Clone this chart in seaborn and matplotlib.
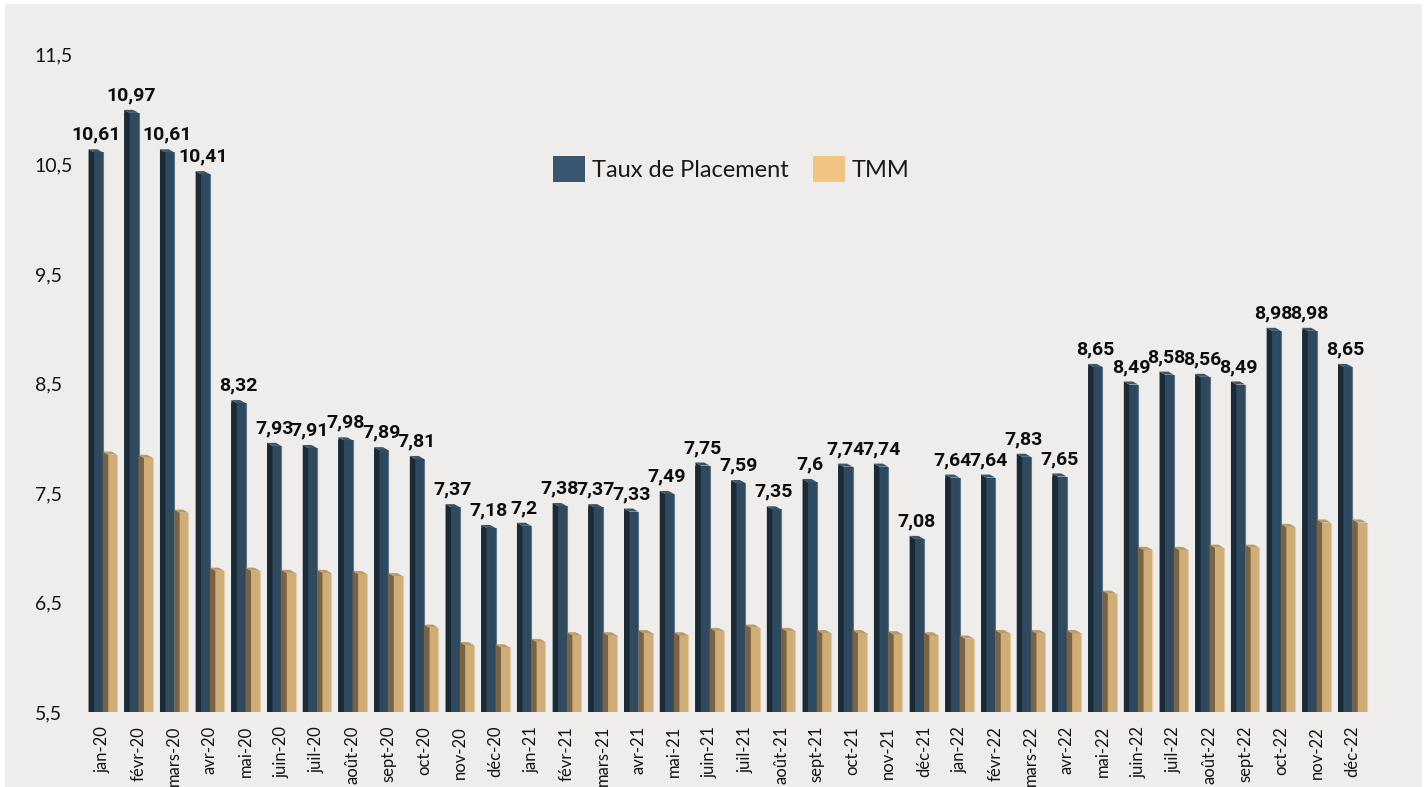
import pandas as pd
import matplotlib.pyplot as plt
import seaborn as sns
from matplotlib.patches import Polygon, Rectangle, Patch

# Data
months = ["jan-20", "févr-20", "mars-20", "avr-20", "mai-20", "juin-20", "juil-20", "août-20",
          "sept-20", "oct-20", "nov-20", "déc-20", "jan-21", "févr-21", "mars-21", "avr-21",
          "mai-21", "juin-21", "juil-21", "août-21", "sept-21", "oct-21", "nov-21", "déc-21",
          "jan-22", "févr-22", "mars-22", "avr-22", "mai-22", "juin-22", "juil-22", "août-22",
          "sept-22", "oct-22", "nov-22", "déc-22"]
taux_placement = [10.61, 10.97, 10.61, 10.41, 8.32, 7.93, 7.91, 7.98, 7.89, 7.81, 7.37, 7.18,
                  7.2, 7.38, 7.37, 7.33, 7.49, 7.75, 7.59, 7.35, 7.6, 7.74, 7.74, 7.08,
                  7.64, 7.64, 7.83, 7.65, 8.65, 8.49, 8.58, 8.56, 8.49, 8.98, 8.98, 8.65]
tmm = [7.85, 7.82, 7.32, 6.79, 6.79, 6.77, 6.77, 6.76, 6.74, 6.27, 6.11, 6.09,
       6.14, 6.20, 6.20, 6.22, 6.20, 6.24, 6.27, 6.24, 6.22, 6.22, 6.21, 6.20,
       6.17, 6.22, 6.22, 6.22, 6.58, 6.98, 6.98, 7.00, 7.00, 7.19, 7.23, 7.23]
series = ["Taux de Placement", "TMM"]
y_ticks = [5.5, 6.5, 7.5, 8.5, 9.5, 10.5, 11.5]

df = pd.DataFrame({
    "Mois": months * 2,
    "Série": [series[0]] * len(months) + [series[1]] * len(months),
    "Valeur": taux_placement + tmm,
})

BG = "#EEEDEB"
front = ["#2F4A5F", "#D0AD76"]
side = ["#1B2A35", "#76644A"]
cap = ["#3A566D", "#B99A68"]
edge = ["#587690", "#E6CB9C"]
legend_cols = ["#3A5570", "#F2C484"]

sns.set_theme(style="white")
plt.rcParams["font.family"] = ["Lato", "DejaVu Sans"]

fig = plt.figure(figsize=(14.28, 7.87), dpi=100)
fig.patch.set_facecolor("white")
fig.patches.append(Rectangle((5 / 1428, 0), 1417 / 1428, 783 / 787,
                             transform=fig.transFigure, facecolor=BG,
                             edgecolor="none", zorder=-10))
ax = fig.add_axes([0.0595, 0.0953, 0.900, 0.835])
ax.set_facecolor("none")

sns.barplot(data=df, x="Mois", y="Valeur", hue="Série", palette=front,
            width=0.8, saturation=1, legend=False, ax=ax)

# fake 3D look: dark side face + top cap on each bar
dh = 0.028
for k, cont in enumerate(ax.containers):
    for bar in cont:
        x0, w, h = bar.get_x(), bar.get_width(), bar.get_height()
        s = 0.38 * w
        bar.set_edgecolor("none")
        ax.add_patch(Polygon([(x0, 0), (x0, h + dh), (x0 + s, h), (x0 + s, 0)],
                             closed=True, facecolor=side[k], edgecolor="none", zorder=3))
        ax.add_patch(Polygon([(x0, h + dh), (x0 + s, h), (x0 + w, h), (x0 + w - s, h + dh)],
                             closed=True, facecolor=cap[k], edgecolor="none", zorder=3))
        ax.plot([x0 + w, x0 + w], [0, h], color=edge[k], lw=0.8, zorder=3)

# value labels on the blue bars
for bar, v in zip(ax.containers[0], taux_placement):
    ax.annotate(f"{v:g}".replace(".", ","),
                (bar.get_x() + bar.get_width() / 2, v),
                xytext=(0, 9), textcoords="offset points",
                ha="center", va="baseline", fontsize=14, fontweight="bold",
                color="#0d0d0d", family=["Roboto", "DejaVu Sans"])

ax.set_ylim(5.5, 11.5)
ax.set_xlim(-0.5, len(months) - 0.5)
ax.set_yticks(y_ticks)
ax.set_yticklabels([f"{t:g}".replace(".", ",") for t in y_ticks], fontsize=14, color="#141414")
for lbl in ax.get_yticklabels():
    lbl.set_horizontalalignment("left")
ax.tick_params(axis="y", length=0, pad=36)
ax.set_xticks(range(len(months)))
ax.set_xticklabels(months, rotation=90, fontsize=12, color="#141414")
ax.tick_params(axis="x", length=0, pad=10)
ax.set_xlabel("")
ax.set_ylabel("")
sns.despine(ax=ax, left=True, bottom=True)

handles = [Patch(facecolor=c, edgecolor="none") for c in legend_cols]
ax.legend(handles, series, loc="center", bbox_to_anchor=(0.503, 0.826), ncol=2,
          frameon=False, fontsize=17, handlelength=1.35, handleheight=1.35,
          handletextpad=0.3, columnspacing=1.0, labelcolor="#1a1a1a")

fig.savefig("out.png", dpi=100, facecolor=fig.get_facecolor())
